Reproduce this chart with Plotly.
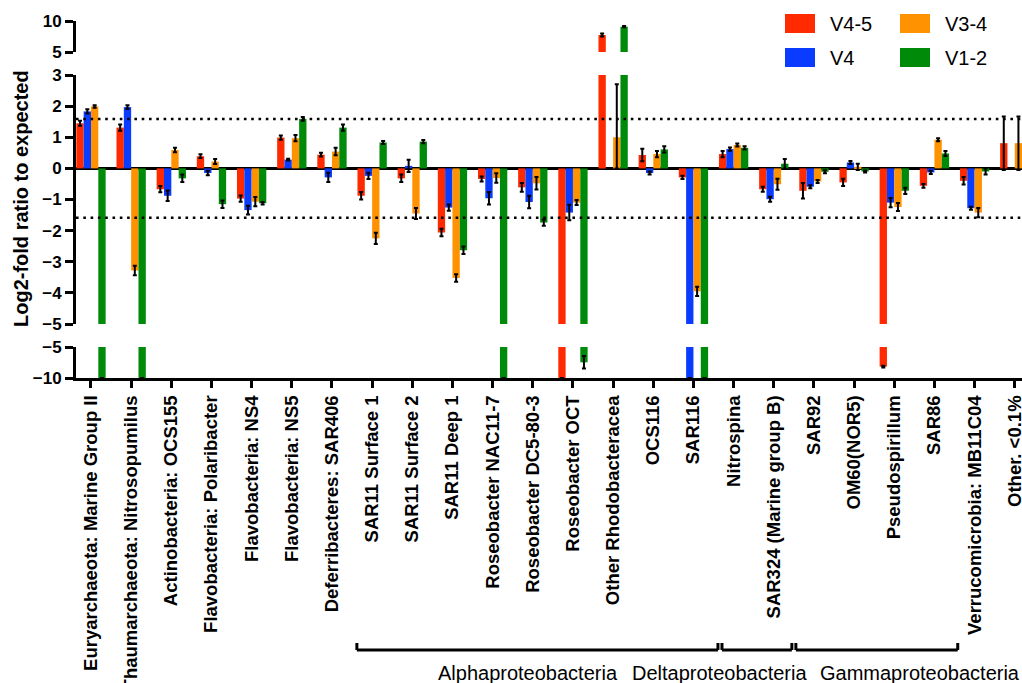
import plotly.graph_objects as go

categories = [
    "Euryarchaeota: Marine Group II", "Thaumarchaeota: Nitrosopumilus",
    "Actinobacteria: OCS155", "Flavobacteria: Polaribacter", "Flavobacteria: NS4",
    "Flavobacteria: NS5", "Deferribacteres: SAR406", "SAR11 Surface 1",
    "SAR11 Surface 2", "SAR11 Deep 1", "Roseobacter NAC11-7", "Roseobacter DC5-80-3",
    "Roseobacter OCT", "Other Rhodobacteracea", "OCS116", "SAR116", "Nitrospina",
    "SAR324 (Marine group B)", "SAR92", "OM60(NOR5)", "Pseudospirillum", "SAR86",
    "Verrucomicrobia: MB11C04", "Other. <0.1%",
]

series_names = ["V4-5", "V4", "V3-4", "V1-2"]
series_colors = ["#ff2a00", "#0a3cff", "#ff9200", "#008a0a"]

v45 = [1.45, 1.31, -0.67, 0.39, -0.97, 0.99, 0.44, -0.88, -0.32, -2.06, -0.34, -0.61,
       -10, 7.74, 0.43, -0.29, 0.46, -0.67, -0.72, -0.45, -8.17, -0.56, -0.40, 0.81]
v45_err = [0.08, 0.1, 0.1, 0.06, 0.1, 0.07, 0.06, 0.12, 0.12, 0.12, 0.08, 0.14,
           None, 0.25, 0.2, 0.05, 0.1, 0.08, 0.25, 0.12, 0.15, 0.06, 0.12, 0.86]

v4 = [1.83, 1.97, -0.88, -0.15, -1.34, 0.28, -0.29, -0.24, 0.08, -1.26, -0.96, -1.08,
      -1.42, 0, -0.15, -10, 0.62, -0.99, -0.59, 0.19, -1.10, -0.13, -1.28, 0]
v4_err = [0.07, 0.06, 0.17, 0.07, 0.14, 0.03, 0.15, 0.1, 0.2, 0.1, 0.2, 0.2,
          0.25, None, 0.05, None, 0.05, 0.08, 0.05, 0.05, 0.15, 0.05, 0.05, None]

v34 = [1.99, -3.28, 0.59, 0.22, -1.07, 0.97, 0.54, -2.25, -1.45, -3.52, -0.31, -0.48,
       -1.10, 1.0, 0.46, -3.95, 0.75, -0.51, -0.42, 0.05, -1.24, 0.92, -1.42, 0.81]
v34_err_plus = [0.04, 0.15, 0.07, 0.08, 0.15, 0.1, 0.12, 0.18, 0.18, 0.12, 0.15, 0.2,
                0.08, 1.7, 0.1, 0.15, 0.05, 0.18, 0.05, 0.1, 0.13, 0.05, 0.15, 0.86]
v34_err_minus = [0.04, 0.15, 0.07, 0.08, 0.15, 0.1, 0.12, 0.18, 0.18, 0.12, 0.15, 0.2,
                 0.08, 1.0, 0.1, 0.15, 0.05, 0.18, 0.05, 0.1, 0.13, 0.05, 0.15, 0.86]

v12 = [-10, -10, -0.32, -1.15, -1.12, 1.59, 1.31, 0.83, 0.86, -2.63, -10, -1.74,
       -7.47, 9.08, 0.61, -10, 0.66, 0.15, -0.11, -0.10, -0.72, 0.48, -0.10, 0]
v12_err = [None, None, 0.12, 0.12, 0.04, 0.06, 0.1, 0.05, 0.05, 0.12, None, 0.1,
           1.0, 0.1, 0.1, None, 0.05, 0.15, 0.05, 0.03, 0.1, 0.08, 0.1, None]

series_values = [v45, v4, v34, v12]
series_err_plus = [v45_err, v4_err, v34_err_plus, v12_err]
series_err_minus = [v45_err, v4_err, v34_err_minus, v12_err]

threshold = 1.585  # log2(3)

groups = [
    ("Alphaproteobacteria", 6.62, 15.61, 10.88),
    ("Deltaproteobacteria", 15.71, 17.45, 15.66),
    ("Gammaproteobacteria", 17.55, 21.58, 20.64),
]

# ---- layout geometry (pixels) ----
W, H = 1022, 683
L, R, T, B = 76, 0, 21, 305
PW, PH = W - L - R, H - T - B
XMIN, XMAX = -0.373, 23.18


def py(p):
    return (H - B - p) / PH


def px(p):
    return (p - L) / PW


def xi(i):
    return (i - XMIN) / (XMAX - XMIN)


FONT = "Liberation Sans, Arial, sans-serif"

fig = go.Figure()
for yax in ["y", "y2", "y3"]:
    for name, vals, ep, em, col in zip(series_names, series_values, series_err_plus,
                                       series_err_minus, series_colors):
        fig.add_trace(go.Bar(
            x=categories, y=vals, name=name, marker=dict(color=col, line=dict(width=0)),
            error_y=dict(type="data", array=ep, arrayminus=em, symmetric=False,
                         color="black", thickness=2, width=2),
            yaxis=yax, xaxis="x", showlegend=False,
        ))

axis_common = dict(showgrid=False, showline=True, linecolor="black", linewidth=3,
                   ticks="outside", ticklen=8, tickwidth=2.5, tickcolor="black",
                   tickfont=dict(family=FONT, size=17, color="black", weight="bold"),
                   anchor="x", zeroline=False, automargin=False)

fig.update_layout(
    template="none",
    width=W, height=H, margin=dict(l=L, r=R, t=T, b=B, pad=0, autoexpand=False),
    paper_bgcolor="white", plot_bgcolor="white",
    barmode="group", bargap=0.27, bargroupgap=0,
    showlegend=False,
    xaxis=dict(type="category", range=[XMIN, XMAX], showgrid=False, showline=True,
               linecolor="black", linewidth=3, ticks="outside", ticklen=7,
               tickwidth=2.5, tickcolor="black", tickangle=-90, anchor="y",
               automargin=False, zeroline=False,
               tickfont=dict(family=FONT, size=18.5, color="black", weight="bold")),
    yaxis=dict(domain=[0, py(347)], range=[-10, -5], tickvals=[-10, -5], **axis_common),
    yaxis2=dict(domain=[py(324), py(75)], range=[-5, 3], tickvals=list(range(-5, 4)),
                **{**axis_common, "zeroline": True}, zerolinecolor="black",
                zerolinewidth=3),
    yaxis3=dict(domain=[py(52), 1], range=[5, 10], tickvals=[5, 10], **axis_common),
)

shapes = []
for t in (threshold, -threshold):
    shapes.append(dict(type="line", xref="paper", yref="y2", x0=0, x1=1, y0=t, y1=t,
                       line=dict(color="black", width=2.6, dash="2.6px,4.7px")))

# group brackets
ybr, ytk = py(650), py(643)
for name, a, b, c in groups:
    for (x0, y0, x1, y1) in [(a, ybr, b, ybr), (a, ybr, a, ytk), (b, ybr, b, ytk)]:
        shapes.append(dict(type="line", xref="paper", yref="paper",
                           x0=xi(x0), x1=xi(x1), y0=y0, y1=y1,
                           line=dict(color="black", width=3)))

# legend (manual, two columns)
legend_pos = [(785, 14), (785, 48), (900, 14), (900, 48)]
annotations = []
for (lx, ly), name, col in zip(legend_pos, series_names, series_colors):
    shapes.append(dict(type="rect", xref="paper", yref="paper",
                       x0=px(lx), x1=px(lx + 30), y0=py(ly), y1=py(ly + 19),
                       fillcolor=col, line=dict(width=0)))
    annotations.append(dict(text=name, xref="paper", yref="paper", x=px(lx + 43),
                            y=py(ly + 10), xanchor="left", yanchor="middle",
                            showarrow=False,
                            font=dict(family=FONT, size=20, color="black")))

for name, a, b, c in groups:
    annotations.append(dict(text=name, xref="paper", yref="paper", x=xi(c), y=py(673),
                            xanchor="center", yanchor="middle", showarrow=False,
                            font=dict(family=FONT, size=20, color="black")))

annotations.append(dict(text="Log2-fold ratio to expected", xref="paper", yref="paper",
                        x=px(21), y=py(199), xanchor="center", yanchor="middle",
                        textangle=-90, showarrow=False,
                        font=dict(family=FONT, size=20, color="black", weight="bold")))

fig.update_layout(shapes=shapes, annotations=annotations)
fig.write_html("out.html",
               config={"displayModeBar": False},
               post_script="document.body.style.margin='0px';"
                           "document.body.style.overflow='hidden';")
